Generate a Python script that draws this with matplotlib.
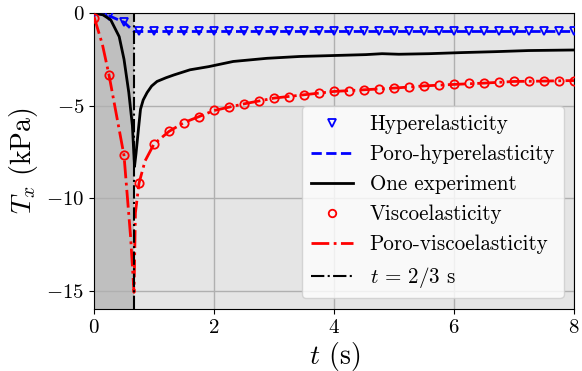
import matplotlib
matplotlib.use("Agg")
import matplotlib.pyplot as plt
import numpy as np

# Figure constants
DPI_PNG = 100
T_LOAD = 2.0 / 3.0

# Sampled model outputs (every 0.25 s)
t_markers = [0.0, 0.25, 0.5, 0.75, 1.0, 1.25, 1.5, 1.75, 2.0, 2.25, 2.5, 2.75,
             3.0, 3.25, 3.5, 3.75, 4.0, 4.25, 4.5, 4.75, 5.0, 5.25, 5.5, 5.75,
             6.0, 6.25, 6.5, 6.75, 7.0, 7.25, 7.5, 7.75, 8.0]
hyper_vals = [0.0, -0.15, -0.5, -1.0, -1.0, -1.0, -1.0, -1.0, -1.0, -1.0, -1.0,
              -1.0, -1.0, -1.0, -1.0, -1.0, -1.0, -1.0, -1.0, -1.0, -1.0, -1.0,
              -1.0, -1.0, -1.0, -1.0, -1.0, -1.0, -1.0, -1.0, -1.0, -1.0, -1.0]
visco_vals = [-0.25, -3.35, -7.7, -9.2, -7.08, -6.4, -5.92, -5.6, -5.27, -5.09,
              -4.91, -4.75, -4.6, -4.55, -4.42, -4.33, -4.24, -4.2, -4.15, -4.12,
              -4.06, -4.01, -3.94, -3.88, -3.86, -3.8, -3.79, -3.74, -3.7, -3.69,
              -3.68, -3.66, -3.65]

# Poro-hyperelastic curve
t_ph = [0.0, 0.25, 0.5, 0.667, 8.0]
ph_vals = [0.0, -0.15, -0.5, -1.0, -1.0]

# Poro-viscoelastic curve
t_pv = [0.0, 0.14, 0.25, 0.5, 0.61, 0.667, 0.69, 0.75, 0.85, 1.0, 1.25, 1.5,
        1.75, 2.0, 2.5, 3.0, 3.5, 4.0, 4.5, 5.0, 5.5, 6.0, 6.5, 7.0, 7.5, 8.0]
pv_vals = [-0.2, -1.7, -3.35, -7.7, -12.1, -15.1, -10.8, -9.2, -8.0, -7.08,
           -6.4, -5.92, -5.6, -5.27, -4.91, -4.6, -4.42, -4.24, -4.15, -4.06,
           -3.94, -3.86, -3.79, -3.7, -3.68, -3.65]

# Experimental curve
t_exp = [0.0, 0.15, 0.28, 0.42, 0.5, 0.58, 0.64, 0.675, 0.70, 0.74, 0.775,
         0.82, 0.885, 0.96, 1.05, 1.2, 1.33, 1.6, 1.91, 2.32, 2.88, 3.43, 3.98,
         4.53, 4.8, 5.08, 5.58, 6.13, 6.69, 7.24, 8.0]
exp_vals = [0.0, -0.1, -0.38, -1.28, -2.5, -4.3, -6.1, -8.3, -7.6, -6.3, -5.2,
            -4.7, -4.3, -3.95, -3.7, -3.5, -3.35, -3.07, -2.9, -2.62, -2.45,
            -2.35, -2.3, -2.25, -2.2, -2.23, -2.2, -2.14, -2.09, -2.03, -2.0]


def main():
    plt.rcParams["font.family"] = "serif"
    plt.rcParams["font.serif"] = ["cmr10"]
    plt.rcParams["mathtext.fontset"] = "cm"
    plt.rcParams["axes.formatter.use_mathtext"] = True

    fig = plt.figure(figsize=(5.82, 3.71), dpi=DPI_PNG)
    ax = fig.add_axes([0.1615, 0.167, 0.825, 0.798])
    ax.set_facecolor("#e5e5e5")
    ax.set_axisbelow(True)
    ax.axvspan(0, T_LOAD, color="#bfbfbf", zorder=0.5, lw=0)
    ax.grid(True, color="#b0b0b0", lw=1.0)

    ax.plot(t_markers, hyper_vals, "v", color="b", mfc="none", ms=6, mew=1.3,
            label="Hyperelasticity", zorder=3)
    ax.plot(t_ph, ph_vals, "--", color="b", lw=2, label="Poro-hyperelasticity",
            zorder=3)
    ax.plot(t_exp, exp_vals, "-", color="k", lw=2, label="One experiment",
            zorder=3)
    ax.plot(t_markers, visco_vals, "o", color="r", mfc="none", ms=6, mew=1.3,
            label="Viscoelasticity", zorder=3)
    ax.plot(t_pv, pv_vals, "-.", color="r", lw=2, label="Poro-viscoelasticity",
            zorder=3)
    ax.axvline(T_LOAD, color="k", ls="-.", lw=1.5, label=r"$t\,=\,2/3$ s",
               zorder=3)

    ax.set_xlim(0, 8)
    ax.set_ylim(-16, 0)
    ax.set_xticks([0, 2, 4, 6, 8])
    ax.set_yticks([0, -5, -10, -15])
    ax.tick_params(labelsize=15)
    ax.set_xlabel(r"$t$ (s)", fontsize=20, labelpad=2)
    ax.set_ylabel(r"$T_x$ (kPa)", fontsize=20, labelpad=4)

    ax.legend(loc="lower right", fontsize=15.2, framealpha=0.8,
              markerscale=0.9)

    fig.savefig("out.png", dpi=DPI_PNG)
    plt.close(fig)


if __name__ == "__main__":
    main()
